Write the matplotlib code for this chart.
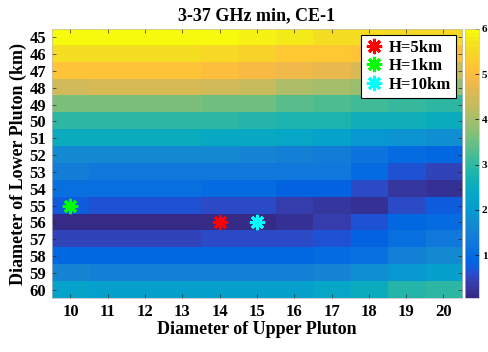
import numpy as np
import matplotlib
matplotlib.use("Agg")
import matplotlib.pyplot as plt
from matplotlib.colors import ListedColormap
from matplotlib.lines import Line2D

# Grid axes
upper_diam = [10, 11, 12, 13, 14, 15, 16, 17, 18, 19, 20]
lower_diam = [45, 46, 47, 48, 49, 50, 51, 52, 53, 54, 55, 56, 57, 58, 59, 60]

# Misfit values, one row per lower-pluton diameter (45 .. 60)
row45 = [6.00, 6.00, 6.00, 5.98, 5.95, 5.90, 5.75, 5.60, 5.55, 5.50, 5.45]
row46 = [5.60, 5.55, 5.55, 5.55, 5.50, 5.40, 5.25, 5.20, 5.10, 5.05, 5.00]
row47 = [5.15, 5.10, 5.10, 5.10, 5.05, 4.95, 4.80, 4.70, 4.60, 4.50, 4.40]
row48 = [4.50, 4.55, 4.55, 4.55, 4.50, 4.35, 4.10, 4.00, 3.90, 3.85, 3.80]
row49 = [3.60, 3.60, 3.60, 3.60, 3.55, 3.50, 3.35, 3.25, 3.15, 3.05, 3.00]
row50 = [3.00, 3.00, 3.00, 3.00, 2.95, 2.90, 2.80, 2.75, 2.65, 2.60, 2.55]
row51 = [2.50, 2.50, 2.50, 2.50, 2.45, 2.40, 2.30, 2.20, 2.00, 1.85, 1.75]
row52 = [1.70, 1.65, 1.65, 1.65, 1.65, 1.60, 1.50, 1.40, 1.25, 1.05, 0.90]
row53 = [1.40, 1.35, 1.35, 1.35, 1.35, 1.30, 1.30, 1.30, 1.00, 0.70, 0.50]
row54 = [1.15, 1.10, 1.10, 1.10, 1.05, 1.00, 0.85, 0.80, 0.60, 0.25, 0.20]
row55 = [0.75, 0.70, 0.65, 0.65, 0.60, 0.55, 0.40, 0.30, 0.20, 0.60, 0.75]
row56 = [0.12, 0.12, 0.12, 0.12, 0.05, 0.10, 0.15, 0.40, 0.70, 0.90, 1.05]
row57 = [0.50, 0.50, 0.50, 0.50, 0.55, 0.55, 0.55, 0.65, 0.85, 1.15, 1.35]
row58 = [0.95, 0.90, 0.90, 0.90, 0.90, 0.90, 0.90, 1.00, 1.15, 1.45, 1.65]
row59 = [1.55, 1.50, 1.50, 1.50, 1.50, 1.50, 1.50, 1.60, 1.75, 2.00, 2.15]
row60 = [2.20, 2.15, 2.15, 2.15, 2.15, 2.15, 2.10, 2.30, 2.50, 2.85, 3.00]

# Best-fit locations for each layer thickness
best_labels = ["H=5km", "H=1km", "H=10km"]
best_upper = [14, 10, 15]
best_lower = [56, 55, 56]
best_colors = ["#ff0000", "#00ff00", "#00ffff"]

title_text = "3-37 GHz min, CE-1"
xlabel_text = "Diameter of Upper Pluton"
ylabel_text = "Diameter of Lower Pluton (km)"
cbar_ticks = [1, 2, 3, 4, 5, 6]

# Parula colormap
parula_data = [
    [0.2081, 0.1663, 0.5292], [0.2116, 0.1898, 0.5777], [0.2123, 0.2138, 0.6270],
    [0.2081, 0.2386, 0.6771], [0.1959, 0.2645, 0.7279], [0.1707, 0.2919, 0.7792],
    [0.1253, 0.3242, 0.8303], [0.0591, 0.3598, 0.8683], [0.0117, 0.3875, 0.8820],
    [0.0060, 0.4086, 0.8828], [0.0165, 0.4266, 0.8786], [0.0329, 0.4430, 0.8720],
    [0.0498, 0.4586, 0.8641], [0.0629, 0.4737, 0.8554], [0.0723, 0.4887, 0.8467],
    [0.0779, 0.5040, 0.8384], [0.0793, 0.5200, 0.8312], [0.0749, 0.5375, 0.8263],
    [0.0641, 0.5570, 0.8240], [0.0488, 0.5772, 0.8228], [0.0343, 0.5966, 0.8199],
    [0.0265, 0.6137, 0.8135], [0.0239, 0.6287, 0.8038], [0.0231, 0.6418, 0.7913],
    [0.0228, 0.6535, 0.7768], [0.0267, 0.6642, 0.7607], [0.0384, 0.6743, 0.7436],
    [0.0590, 0.6838, 0.7254], [0.0843, 0.6928, 0.7062], [0.1133, 0.7015, 0.6859],
    [0.1453, 0.7098, 0.6646], [0.1801, 0.7177, 0.6424], [0.2178, 0.7250, 0.6193],
    [0.2586, 0.7317, 0.5954], [0.3022, 0.7376, 0.5712], [0.3482, 0.7424, 0.5473],
    [0.3953, 0.7459, 0.5244], [0.4420, 0.7481, 0.5033], [0.4871, 0.7491, 0.4840],
    [0.5300, 0.7491, 0.4661], [0.5709, 0.7485, 0.4494], [0.6099, 0.7473, 0.4337],
    [0.6473, 0.7456, 0.4188], [0.6834, 0.7435, 0.4044], [0.7184, 0.7411, 0.3905],
    [0.7525, 0.7384, 0.3768], [0.7858, 0.7356, 0.3633], [0.8185, 0.7327, 0.3498],
    [0.8507, 0.7299, 0.3360], [0.8824, 0.7274, 0.3217], [0.9139, 0.7258, 0.3063],
    [0.9450, 0.7261, 0.2886], [0.9739, 0.7314, 0.2666], [0.9938, 0.7455, 0.2403],
    [0.9990, 0.7653, 0.2164], [0.9955, 0.7861, 0.1967], [0.9880, 0.8066, 0.1794],
    [0.9789, 0.8271, 0.1633], [0.9697, 0.8481, 0.1475], [0.9626, 0.8705, 0.1309],
    [0.9589, 0.8949, 0.1132], [0.9598, 0.9218, 0.0948], [0.9661, 0.9514, 0.0755],
    [0.9763, 0.9831, 0.0538],
]
parula = ListedColormap(parula_data, name="parula")

values = np.array([row45, row46, row47, row48, row49, row50, row51, row52,
                   row53, row54, row55, row56, row57, row58, row59, row60])

serif = ["Liberation Serif", "DejaVu Serif"]
plt.rcParams["font.family"] = serif
plt.rcParams["font.weight"] = "bold"

fig = plt.figure(figsize=(4.89, 3.52), dpi=100)
ax = fig.add_axes([0.106, 0.153, 0.839, 0.765])
cax = fig.add_axes([0.951, 0.153, 0.029, 0.765])

x0, x1 = upper_diam[0] - 0.5, upper_diam[-1] + 0.5
y0, y1 = lower_diam[0] - 0.5, lower_diam[-1] + 0.5
im = ax.imshow(values, cmap=parula, aspect="auto", interpolation="nearest",
               extent=[x0, x1, y1, y0], vmin=values.min(), vmax=values.max())

handles = []
for lab, ux, ly, col in zip(best_labels, best_upper, best_lower, best_colors):
    ax.plot(ux, ly, linestyle="none", marker=(8, 2, 0), markersize=11,
            markeredgewidth=2.2, color=col, label=lab)
    handles.append(Line2D([], [], linestyle="none", marker=(8, 2, 0),
                          markersize=11, markeredgewidth=2.2, color=col, label=lab))

ax.set_xticks(upper_diam)
ax.set_yticks(lower_diam)
ax.set_xlim(x0, x1)
ax.set_ylim(y1, y0)
ax.tick_params(direction="in", length=3, width=0.5, top=True, right=True,
               labelsize=12, pad=4, colors="#262626")
for lbl in ax.get_xticklabels() + ax.get_yticklabels():
    lbl.set_fontweight("bold")
    lbl.set_color("black")
for s in ax.spines.values():
    s.set_linewidth(0.5)
    s.set_color("#bdbdbd")

ax.set_title(title_text, fontsize=13, fontweight="bold", pad=6)
ax.set_xlabel(xlabel_text, fontsize=13, fontweight="bold", labelpad=1)
ax.set_ylabel(ylabel_text, fontsize=13, fontweight="bold", labelpad=2)

leg = ax.legend(handles=handles, loc="upper right",
                prop={"family": serif, "weight": "bold", "size": 12},
                frameon=True, fancybox=False, borderaxespad=0.35,
                handlelength=1.0, handletextpad=0.4, borderpad=0.3,
                labelspacing=0.15)
leg.get_frame().set_edgecolor("black")
leg.get_frame().set_linewidth(0.8)
leg.get_frame().set_alpha(1)

cb = fig.colorbar(im, cax=cax, ticks=cbar_ticks)
cb.outline.set_linewidth(0.5)
cb.outline.set_edgecolor("#bdbdbd")
cax.tick_params(direction="in", length=3, width=0.5, labelsize=8, pad=2)
for lbl in cax.get_yticklabels():
    lbl.set_fontweight("bold")

fig.savefig("out.png", dpi=100)
